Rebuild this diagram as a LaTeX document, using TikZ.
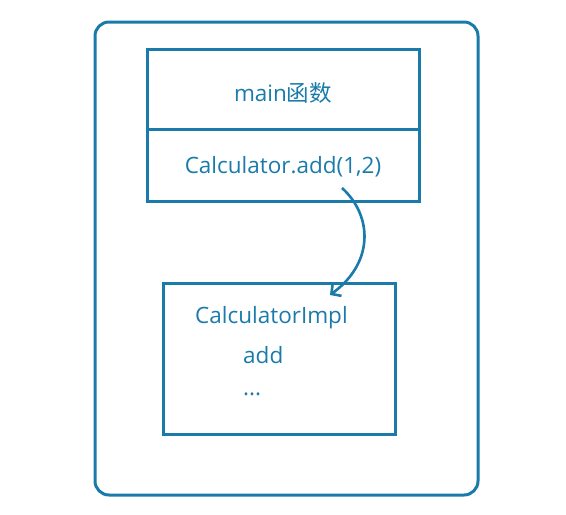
\documentclass[tikz,border=0pt]{standalone}
\usepackage{fontspec}
\setmainfont{Open Sans}
\newfontfamily\cjk{Noto Sans CJK SC}
\usetikzlibrary{positioning,arrows.meta}
\definecolor{penblue}{RGB}{26,122,170}

\begin{document}
\begin{tikzpicture}[x=1pt,y=-1pt,
        box/.style={draw=penblue,line width=3pt,inner sep=0pt,outer sep=0pt},
        txt/.style={text=penblue,inner sep=0pt,font=\fontsize{22.5}{26}\selectfont},
        call arrow/.style={draw=penblue,line width=2.6pt,-{Straight Barb[length=7pt,width=15pt]}}]
    \useasboundingbox (0,0) rectangle (566,515);

    % outer frame
    \node[box,rounded corners=14pt,minimum width=383pt,minimum height=473pt] (frame) at (286.5,258.5) {};

    % main function box
    \begin{scope}
        \node[box,minimum width=272pt,minimum height=80pt] (mainfn) at (283,89) {};
        \node[box,minimum width=272pt,minimum height=72pt,below=0pt of mainfn] (call) {};
        \node[txt,yshift=-4pt] (mainfn_t) at (mainfn.center) {main{\cjk 函数}};
        \node[txt,yshift=-2pt] (call_t) at (call.center) {Calculator.add(1,2)};
    \end{scope}

    % implementation box
    \begin{scope}
        \node[box,minimum width=232pt,minimum height=151pt] (impl) at (279,358.5) {};
        \node[txt,anchor=base west] (impl_name) at (195,323) {CalculatorImpl};
        \node[txt,anchor=base west] (impl_add) at (243,363) {add};
        \node[txt,anchor=base west] (impl_more) at (243,395) {...};
    \end{scope}

    \coordinate (from) at ([xshift=59pt,yshift=13pt]call.south);
    \coordinate (to) at ([xshift=51pt,yshift=-12pt]impl.north);
    \draw[call arrow] (from) .. controls (372,215) and (375,262) .. (to);
\end{tikzpicture}
\end{document}
